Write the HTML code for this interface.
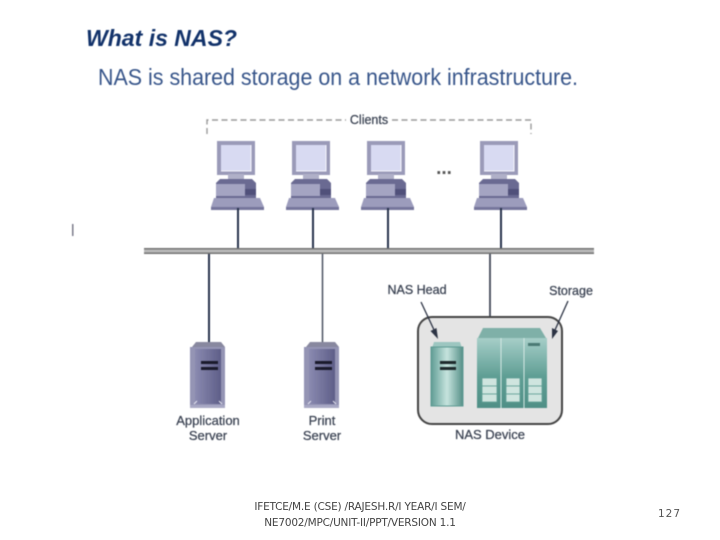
<!DOCTYPE html>
<html>
<head>
<meta charset="utf-8">
<style>
html,body{margin:0;padding:0;background:#fff;}
body{width:720px;height:540px;overflow:hidden;position:relative;font-family:"Liberation Sans",sans-serif;}
svg{position:absolute;left:0;top:0;}
.soft{filter:blur(.5px);}
.foot{position:absolute;left:220px;top:499px;width:280px;text-align:center;font-size:10.5px;line-height:16px;color:#444;font-family:"DejaVu Sans","Liberation Sans",sans-serif;letter-spacing:-.2px;}
.num{position:absolute;left:658px;top:508px;font-size:10.5px;color:#555;letter-spacing:1px;font-family:"DejaVu Sans","Liberation Sans",sans-serif;}
.lb{stroke:#3a4252;stroke-width:.25px;fill:#3a4252;font-family:"Liberation Sans";}
</style>
</head>
<body>
<svg class="soft" width="720" height="540" viewBox="0 0 720 540" xmlns="http://www.w3.org/2000/svg">
<defs>
<linearGradient id="tw" x1="0" x2="1" y1="0" y2="0">
<stop offset="0" stop-color="#8a8ab0"/><stop offset=".5" stop-color="#74749c"/><stop offset="1" stop-color="#5e5e88"/>
</linearGradient>
<linearGradient id="hd" x1="0" x2="1" y1="0" y2="0">
<stop offset="0" stop-color="#5f9c94"/><stop offset=".5" stop-color="#c6e4de"/><stop offset="1" stop-color="#569088"/>
</linearGradient>
<linearGradient id="st" x1="0" x2="0" y1="0" y2="1">
<stop offset="0" stop-color="#a6cec8"/><stop offset=".55" stop-color="#5f9e94"/><stop offset="1" stop-color="#4f8f86"/>
</linearGradient>
<g id="pc">
<rect x="0" y="0" width="38" height="34" fill="#9a9ab8"/>
<rect x="4" y="4" width="30" height="26" fill="#d8daf2"/>
<path d="M4 30H34V4" fill="none" stroke="#f6f6fc" stroke-width="1"/>
<rect x="11" y="33" width="16" height="6" fill="#b0b0c8"/>
<path d="M-1 42 L3 38 H35 L39 42 V57 H-1Z" fill="#6a6a92"/>
<rect x="-1" y="43" width="29" height="12" fill="#a4a4c2"/>
<rect x="28" y="48" width="11" height="6" fill="#50507a"/>
<path d="M-3 57 H43 L47 66 V69 H-6 V66Z" fill="#9c9cbc"/>
<rect x="-6" y="66" width="53" height="3" fill="#76769c"/>
</g>
<g id="srv">
<path d="M4 0 H29 L33 5 H0Z" fill="#88889f"/>
<rect x="-2" y="5" width="35" height="61" fill="#9494b4"/>
<rect x="3" y="7" width="26" height="55" fill="url(#tw)"/>
<rect x="9" y="19" width="17" height="3" fill="#1a1a2c"/>
<rect x="9" y="25" width="17" height="3" fill="#1a1a2c"/>
<rect x="-2" y="63" width="35" height="3" fill="#a8a8c4"/>
<path d="M2 62l3-3M30 62l-3-3" stroke="#e8e8f2" stroke-width="1"/>
</g>
</defs>

<text x="86" y="46" font-family="Liberation Sans" font-size="23" font-weight="bold" font-style="italic" fill="#12326a" textLength="151" lengthAdjust="spacingAndGlyphs">What is NAS?</text>
<text x="98" y="85" font-family="Liberation Sans" font-size="23.5" fill="#37558a" textLength="480" lengthAdjust="spacingAndGlyphs">NAS is shared storage on a network infrastructure.</text>

<path d="M207 134 V120 H346 M392 120 H531 V134" fill="none" stroke="#9a9a9a" stroke-width="1.4" stroke-dasharray="6 3.5"/>
<text class="lb" x="369" y="124" text-anchor="middle" font-size="12.5">Clients</text>

<use href="#pc" x="217" y="141"/>
<use href="#pc" x="292" y="141"/>
<use href="#pc" x="367" y="141"/>
<use href="#pc" x="480" y="141"/>
<text x="444" y="174" text-anchor="middle" font-size="19" font-weight="bold" fill="#555" font-family="Liberation Sans">...</text>

<g stroke="#28344c" stroke-width="2">
<path d="M238 208V248M313 208V248M388 208V248M501 208V248"/>
<path d="M209 254V345"/>
</g>
<path d="M322.500 254V345" stroke="#4a5060" stroke-width="1.500"/>
<path d="M490 254V317" stroke="#3a4050" stroke-width="1.700"/>

<rect x="144" y="248" width="450" height="6" fill="#b8b8b8"/>
<rect x="144" y="248" width="450" height="1.500" fill="#747474"/>
<rect x="144" y="252.500" width="450" height="1.500" fill="#747474"/>
<rect x="72" y="224" width="1.500" height="12" fill="#7a7a8a"/>

<use href="#srv" x="192" y="342"/>
<use href="#srv" x="306" y="342"/>
<text class="lb" x="208" y="425" text-anchor="middle" font-size="13">Application</text>
<text class="lb" x="208" y="440" text-anchor="middle" font-size="13">Server</text>
<text class="lb" x="322" y="425" text-anchor="middle" font-size="13">Print</text>
<text class="lb" x="322" y="440" text-anchor="middle" font-size="13">Server</text>

<rect x="418" y="317" width="144" height="107" rx="14" fill="#e4e4e4" stroke="#444" stroke-width="2"/>

<path d="M434 342 H460 L462 348 H432Z" fill="#9cc6c0"/>
<rect x="431" y="347" width="32" height="59" fill="url(#hd)" stroke="#5c9a92" stroke-width="1"/>
<rect x="440" y="361" width="16" height="3" fill="#1d2a2c"/>
<rect x="440" y="367" width="16" height="3" fill="#1d2a2c"/>

<path d="M483 328 H540 L546 338 H478Z" fill="#7fb0a8"/>
<rect x="477" y="338" width="70" height="70" fill="url(#st)"/>
<path d="M501 338V408M524 338V408" stroke="#d4e8e4" stroke-width="1"/>
<rect x="528" y="343" width="12" height="3" fill="#4a7a74"/>
<g fill="#cfe5df" stroke="#5f9e94" stroke-width=".8">
<rect x="482" y="378" width="15" height="8"/><rect x="482" y="386" width="15" height="8"/><rect x="482" y="394" width="15" height="8"/>
<rect x="506" y="378" width="14" height="8"/><rect x="506" y="386" width="14" height="8"/><rect x="506" y="394" width="14" height="8"/>
<rect x="528" y="378" width="14" height="8"/><rect x="528" y="386" width="14" height="8"/><rect x="528" y="394" width="14" height="8"/>
</g>

<text class="lb" x="417" y="294" text-anchor="middle" font-size="12.500">NAS Head</text>
<text class="lb" x="571" y="295" text-anchor="middle" font-size="12.500">Storage</text>
<text class="lb" x="490" y="439" text-anchor="middle" font-size="13">NAS Device</text>

<path d="M421 302 L435 332" stroke="#2c3344" stroke-width="1.300"/>
<path d="M438 339 L430.500 331 L436.500 328Z" fill="#2c3344"/>
<path d="M568 301 L555 330" stroke="#2c3344" stroke-width="1.300"/>
<path d="M552 339 L552 328 L558 331Z" fill="#2c3344"/>
</svg>
<div class="foot">IFETCE/M.E (CSE) /RAJESH.R/I YEAR/I SEM/<br>NE7002/MPC/UNIT-II/PPT/VERSION 1.1</div>
<div class="num">127</div>
</body>
</html>
